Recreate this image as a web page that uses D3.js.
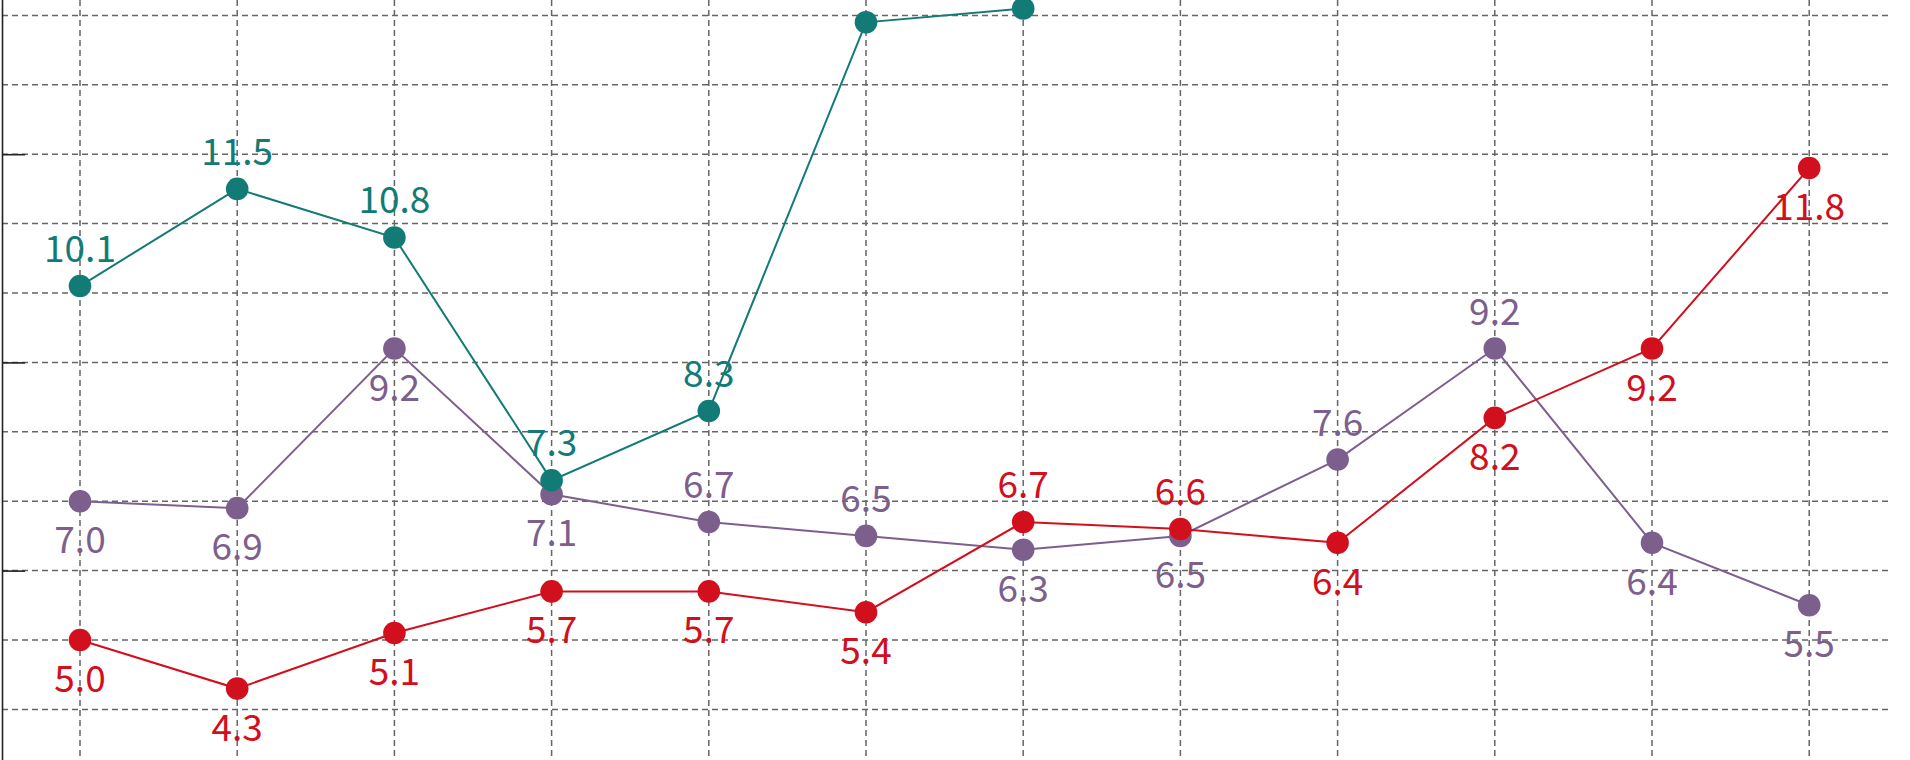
<!DOCTYPE html>
<html>
<head>
<meta charset="utf-8">
<script src="https://cdn.jsdelivr.net/npm/d3@7"></script>
<style>
  html, body { margin: 0; padding: 0; background: #fff; overflow: hidden; }
  svg { display: block; }
</style>
</head>
<body>
<svg id="chart" width="1910" height="760"></svg>
<script>
// ---- data ----
const categories = ["1", "2", "3", "4", "5", "6", "7", "8", "9", "10", "11", "12"];
const tealValues   = [10.1, 11.5, 10.8, 7.3, 8.3, 13.9, 14.1, null, null, null, null, null];
const purpleValues = [7.0, 6.9, 9.2, 7.1, 6.7, 6.5, 6.3, 6.5, 7.6, 9.2, 6.4, 5.5];
const redValues    = [5.0, 4.3, 5.1, 5.7, 5.7, 5.4, 6.7, 6.6, 6.4, 8.2, 9.2, 11.8];
const tealSides    = ["up", "up", "up", "up", "up", "up", "up", null, null, null, null, null];
const purpleSides  = ["down", "down", "down", "down", "up", "up", "down", "down", "up", "up", "down", "down"];
const redSides     = ["down", "down", "down", "down", "down", "down", "up", "up", "down", "down", "down", "down"];
const yTickValues  = [0, 3, 6, 9, 12, 15];
const yGridValues  = d3.range(0, 16, 1);

const series = [
  { name: "purple", values: purpleValues, sides: purpleSides, color: "#7d5f8e" },
  { name: "red",    values: redValues,    sides: redSides,    color: "#d20f1d" },
  { name: "teal",   values: tealValues,   sides: tealSides,   color: "#137b75" }
];

// ---- layout ----
const W = 1910, H = 760;
const svg = d3.select("#chart");
const axisX = 2;
const gridRight = 1888;

const x = d3.scalePoint().domain(categories).range([80, 80 + 11 * 157.2]).padding(0);
const y = d3.scaleLinear().domain([0, 15]).range([987, -54]);

// grid
const grid = svg.append("g").attr("class", "grid");
grid.selectAll("line.h").data(yGridValues).join("line")
  .attr("class", "h")
  .attr("x1", axisX).attr("x2", gridRight)
  .attr("y1", d => y(d)).attr("y2", d => y(d))
  .attr("stroke", "#666").attr("stroke-width", 1.5)
  .attr("stroke-dasharray", "6,4");
grid.selectAll("line.v").data(categories).join("line")
  .attr("class", "v")
  .attr("x1", d => x(d)).attr("x2", d => x(d))
  .attr("y1", 0).attr("y2", H)
  .attr("stroke", "#666").attr("stroke-width", 1.5)
  .attr("stroke-dasharray", "6,4");

// y axis (tick labels lie outside the visible area, so none are drawn)
const yAxis = d3.axisLeft(y).tickValues(yTickValues).tickSize(-23).tickFormat("");
const ag = svg.append("g").attr("transform", `translate(${axisX},0)`).call(yAxis);
ag.select(".domain").attr("stroke", "#222").attr("stroke-width", 1.6);
ag.selectAll(".tick line").attr("stroke", "#222").attr("stroke-width", 1.6);

// series
const line = d3.line()
  .defined(d => d.v != null)
  .x(d => x(d.c))
  .y(d => y(d.v));

const labelY = d => y(d.v) + (d.side === "up" ? -24 : 52);

series.forEach(s => {
  const pts = categories.map((c, i) => ({ c, v: s.values[i], side: s.sides[i] }));
  const g = svg.append("g").attr("class", "series-" + s.name);
  g.append("path")
    .datum(pts)
    .attr("d", line)
    .attr("fill", "none")
    .attr("stroke", s.color)
    .attr("stroke-width", 2);
  const valid = pts.filter(d => d.v != null);
  g.selectAll("circle").data(valid).join("circle")
    .attr("cx", d => x(d.c)).attr("cy", d => y(d.v))
    .attr("r", 11.3)
    .attr("fill", s.color);
  // labels that would fall above the visible area are not shown (as in the reference)
  g.selectAll("text").data(valid.filter(d => labelY(d) - 28 > 0 && labelY(d) < H)).join("text")
    .attr("x", d => x(d.c))
    .attr("y", labelY)
    .attr("text-anchor", "middle")
    .attr("font-family", "'Noto Sans CJK SC', 'Noto Sans', sans-serif")
    .attr("font-size", 37)
    .attr("fill", s.color)
    .text(d => d.v.toFixed(1));
});
</script>
</body>
</html>
